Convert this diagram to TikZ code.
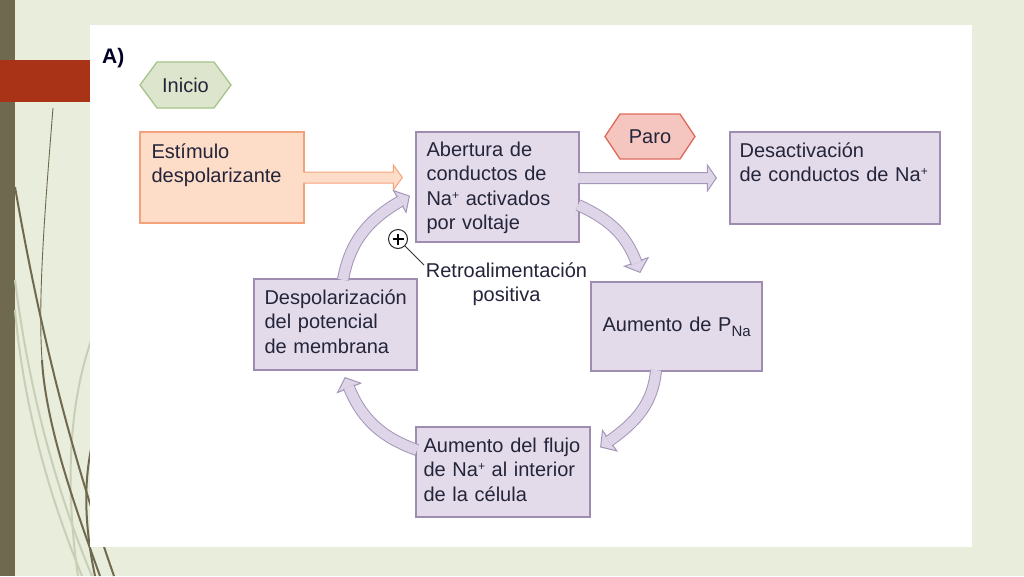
\documentclass[tikz,border=0pt]{standalone}
\usepackage{fontspec}
\setmainfont{Liberation Sans}
\usetikzlibrary{calc}
\definecolor{bgc}{HTML}{E9EDDB}
\definecolor{barc}{HTML}{6F6A4F}
\definecolor{lightc}{HTML}{C9CEB7}
\definecolor{redc}{HTML}{A83317}
\definecolor{pfill}{HTML}{E3DBEA}
\definecolor{pborder}{HTML}{9E8DB0}
\definecolor{afill}{HTML}{DED5E8}
\definecolor{aborder}{HTML}{A596B8}
\definecolor{ofill}{HTML}{FDDCC8}
\definecolor{oborder}{HTML}{F4A27C}
\definecolor{gfill}{HTML}{DDE6CC}
\definecolor{gborder}{HTML}{A5C38A}
\definecolor{rfill}{HTML}{F4C6BF}
\definecolor{rborder}{HTML}{DE6A5E}
\definecolor{textc}{HTML}{24243A}
\newcommand\fathead[2]{\draw[parrow, shift={(#1)}, rotate=#2] (-11,12.5) -- (0,0) -- (-11,-12.5) -- cycle;}
\newcommand\supplus{\raisebox{6pt}{\fontsize{12}{12}\selectfont +}}
\begin{document}
\begin{tikzpicture}[x=1pt,y=1pt,
  box/.style={draw=pborder, fill=pfill, line width=1.3pt, inner sep=0pt},
  obox/.style={box, draw=oborder, fill=ofill},
  txt/.style={anchor=base west, inner sep=0pt, text=textc, font=\fontsize{20}{24.5}\selectfont, text width=220pt, align=left},
  lbl/.style={inner sep=0pt, text=textc, font=\fontsize{20}{24.5}\selectfont},
  oarrow/.style={fill=ofill, draw=oborder, line width=1pt},
  parrow/.style={fill=afill, draw=aborder, line width=1pt},
  pshaft/.style={draw=aborder, line width=1pt, double=afill, double distance=10pt},
  darkline/.style={draw=barc, line width=2pt},
  thinline/.style={draw=barc, line width=0.9pt},
  lightline/.style={draw=lightc, line width=2pt}]
\useasboundingbox (0,0) rectangle (1024,-576);
\fill[bgc] (0,0) rectangle (1024,-576);
\fill[barc] (0,0) rectangle (15,-576);
% decorative lines
\draw[lightline] (15,-280) .. controls (30,-400) and (60,-500) .. (92,-576);
\draw[lightline] (15,-310) .. controls (25,-420) and (55,-510) .. (82,-576);
\draw[lightline] (120,-280) .. controls (75,-350) and (60,-450) .. (78,-576);
\draw[thinline] (53,-108) .. controls (44,-220) and (38,-300) .. (42,-360);
\draw[darkline] (42,-360) .. controls (46,-430) and (80,-520) .. (100,-576);
\draw[darkline] (15,-187) .. controls (40,-330) and (70,-450) .. (114,-576);
\draw[darkline] (105,-405) .. controls (85,-450) and (80,-505) .. (95,-576);
\fill[redc] (0,-60) rectangle (90,-102);
\fill[white] (90,-25) rectangle (972,-547);
% label A)
\node[anchor=base west, inner sep=0pt, font=\fontsize{21}{24}\selectfont\bfseries, text=black!85!blue] (lab) at (102,-63) {A)};
% hexagons
\draw[fill=gfill, draw=gborder, line width=1.3pt] (140,-85) -- (157,-62) -- (214,-62) -- (231,-85) -- (214,-108) -- (157,-108) -- cycle;
\node[lbl] (inicio) at (185.5,-85) {Inicio};
\draw[fill=rfill, draw=rborder, line width=1.3pt] (605,-136.5) -- (620,-114) -- (680,-114) -- (695,-136.5) -- (680,-159) -- (620,-159) -- cycle;
\node[lbl] (paro) at (650,-136.5) {Paro};
% boxes
\node[obox, minimum width=164pt, minimum height=91pt] (est) at (222,-177.5) {};
\node[box, minimum width=163pt, minimum height=110pt] (abe) at (497.5,-187) {};
\node[box, minimum width=210pt, minimum height=92pt] (des) at (835,-178) {};
\node[box, minimum width=163pt, minimum height=91pt] (dep) at (335.5,-324.5) {};
\node[box, minimum width=171pt, minimum height=89pt] (pna) at (676.5,-326.5) {};
\node[box, minimum width=174pt, minimum height=90pt] (flu) at (503,-472) {};
% texts
\node[txt] (test) at ($(est.north west)+(12,-27)$) {Estímulo\\despolarizante};
\node[txt] (tabe) at ($(abe.north west)+(11,-25)$) {Abertura de\\conductos de\\Na\supplus{} activados\\por voltaje};
\node[txt] (tdes) at ($(des.north west)+(10,-26)$) {Desactivación\\de conductos de Na\supplus};
\node[txt] (tdep) at ($(dep.north west)+(11,-26)$) {Despolarización\\del potencial\\de membrana};
\node[txt] (tpna) at ($(pna.north west)+(12,-50)$) {Aumento de P\raisebox{-5pt}{\fontsize{15}{15}\selectfont Na}};
\node[txt] (tflu) at ($(flu.north west)+(8,-26)$) {Aumento del flujo\\de Na\supplus{} al interior\\de la célula};
% straight fat arrows
\coordinate (oa) at (est.east -| abe.west);
\draw[oarrow] ($(est.east)+(-1.5,5.5)$) -- ($(oa)+(-22,5.5)$) -- ($(oa)+(-22,12.5)$) -- ($(oa)+(-13,0)$) -- ($(oa)+(-22,-12.5)$) -- ($(oa)+(-22,-5.5)$) -- ($(est.east)+(-1.5,-5.5)$);
\coordinate (pa) at ($(abe.east)+(0,9)$);
\coordinate (pb) at (pa -| des.west);
\draw[parrow] ($(pa)+(-1.5,5.5)$) -- ($(pb)+(-22,5.5)$) -- ($(pb)+(-22,13)$) -- ($(pb)+(-13,0)$) -- ($(pb)+(-22,-13)$) -- ($(pb)+(-22,-5.5)$) -- ($(pa)+(-1.5,-5.5)$);
% curved fat arrows
\coordinate (t1) at ($(pna.north)+(-36.5,9)$);
\coordinate (t2) at ($(flu.east)+(10,25)$);
\coordinate (t3) at ($(dep.south)+(9.5,-7)$);
\coordinate (t4) at ($(abe.west)+(-6,-9)$);
\fathead{t1}{-70}
\fathead{t2}{215}
\fathead{t3}{112}
\fathead{t4}{30}
\draw[pshaft] ($(abe.east)+(-1.5,-18)$) to[out=-25, in=110] ($(t1)+(110:9.8)$);
\draw[pshaft] ($(pna.south)+(-20.5,1.5)$) to[out=-95, in=35] ($(t2)+(35:9.8)$);
\draw[pshaft] ($(flu.west)+(1.5,22)$) to[out=160, in=292] ($(t3)+(292:9.8)$);
\draw[pshaft] ($(dep.north)+(7.5,-1.5)$) to[out=80, in=210] ($(t4)+(210:9.8)$);
% positive feedback
\node[circle, draw=black!85, fill=white, line width=1pt, minimum size=19pt, inner sep=0pt] (plus) at (398,-239) {};
\draw[line width=1.7pt] ($(plus.center)+(-5.5,0)$) -- ($(plus.center)+(5.5,0)$);
\draw[line width=1.7pt] ($(plus.center)+(0,-5.5)$) -- ($(plus.center)+(0,5.5)$);
\node[lbl, anchor=base, text width=200pt, align=center] (retro) at (506.5,-277) {Retroalimentación\\positiva};
\coordinate (lead) at (424,-265);
\draw[line width=0.8pt, black!80] (plus.south east) -- (lead);
\end{tikzpicture}
\end{document}
